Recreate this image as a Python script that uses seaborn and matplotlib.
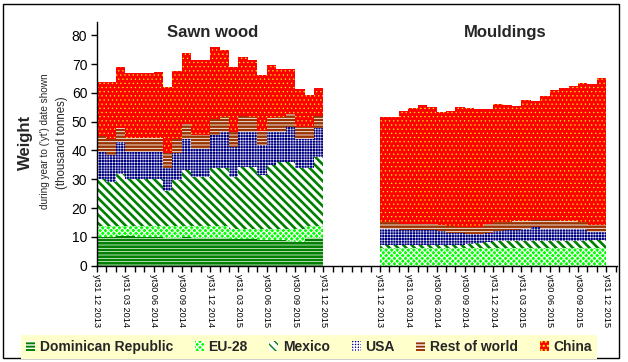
import numpy as np
import pandas as pd
import matplotlib
matplotlib.use("Agg")
import matplotlib.pyplot as plt
import matplotlib.patches as mpatches
import seaborn as sns

# ---------------- data ----------------
period_labels = ["yt31 12 2013", "yt31 03 2014", "yt30 06 2014", "yt30 09 2014",
                 "yt31 12 2014", "yt31 03 2015", "yt30 06 2015", "yt30 09 2015",
                 "yt31 12 2015"]
groups = ["Sawn wood", "Mouldings"]
countries = ["Dominican Republic", "EU-28", "Mexico", "USA", "Rest of world", "China"]

sawn_dominican = [10.1, 10.0, 10.4, 10.2, 10.0, 9.8, 9.8, 9.7, 9.7, 9.8, 9.7, 9.6,
                  9.6, 9.5, 9.4, 9.3, 9.2, 9.0, 8.9, 8.9, 8.7, 8.4, 9.5, 9.5]
sawn_eu = [3.7, 3.8, 3.4, 3.6, 3.8, 4.0, 4.0, 4.1, 4.1, 4.0, 4.1, 4.2,
           4.2, 4.3, 3.2, 3.3, 3.4, 3.6, 3.7, 3.7, 3.9, 4.2, 4.4, 4.4]
sawn_mexico = [16.2, 15.2, 18.0, 16.3, 16.3, 16.3, 16.3, 12.2, 16.0, 19.4, 16.9, 16.9,
               20.0, 20.0, 18.1, 21.6, 21.6, 18.9, 22.4, 23.5, 23.5, 21.2, 19.9, 23.7]
sawn_usa = [9.6, 9.4, 11.3, 9.5, 9.5, 9.5, 9.5, 7.8, 9.4, 10.7, 9.7, 9.7,
            11.6, 12.5, 10.6, 12.1, 12.1, 10.4, 11.5, 10.4, 11.9, 10.1, 10.1, 10.1]
sawn_rest = [5.4, 5.5, 4.6, 4.6, 4.6, 4.6, 4.6, 5.2, 4.7, 5.3, 5.0, 5.0,
             5.4, 5.4, 5.2, 5.8, 5.2, 5.0, 4.7, 5.0, 4.7, 4.1, 4.1, 4.3]
sawn_china = [18.8, 19.9, 21.3, 22.7, 22.7, 22.8, 23.1, 23.0, 23.7, 24.7, 26.0, 26.0,
              25.1, 23.2, 22.5, 20.4, 19.9, 19.3, 18.5, 16.8, 15.6, 13.4, 11.3, 9.7]

mould_dominican = [0.0, 0.0, 0.0, 0.0, 0.0, 0.0, 0.0, 0.0, 0.0, 0.0, 0.0, 0.0,
                   0.0, 0.0, 0.0, 0.0, 0.0, 0.0, 0.0, 0.0, 0.0, 0.0, 0.0, 0.0]
mould_eu = [6.0, 6.0, 6.0, 6.0, 6.0, 6.0, 6.0, 6.0, 6.0, 6.0, 6.0, 6.0,
            6.0, 6.0, 6.0, 6.0, 6.0, 6.0, 6.0, 6.0, 6.0, 6.0, 6.0, 6.0]
mould_mexico = [1.2, 1.2, 1.2, 1.2, 1.2, 1.2, 1.2, 1.3, 1.3, 1.5, 1.8, 2.2,
                2.5, 2.6, 2.6, 2.7, 2.7, 2.7, 2.7, 2.7, 2.7, 2.7, 2.8, 2.8]
mould_usa = [5.4, 5.4, 5.3, 5.3, 5.2, 5.1, 5.0, 4.2, 3.9, 3.5, 3.2, 3.2,
             3.5, 3.7, 3.9, 4.1, 4.8, 4.2, 4.1, 4.1, 4.1, 4.0, 2.8, 2.8]
mould_rest = [2.4, 2.4, 2.1, 2.1, 2.1, 2.2, 2.1, 2.3, 2.3, 2.3, 2.6, 3.2,
              3.2, 3.0, 3.0, 2.8, 2.2, 2.9, 2.9, 2.8, 2.8, 2.6, 2.7, 2.6]
mould_china = [36.6, 36.6, 39.1, 40.2, 41.3, 40.6, 39.1, 39.9, 41.6, 41.5, 40.8, 39.8,
               40.9, 40.5, 40.0, 41.9, 41.5, 43.1, 45.3, 46.1, 46.8, 48.1, 48.8, 51.0]

# ---------------- build table ----------------
n = len(sawn_china)
group_offset = {"Sawn wood": 0, "Mouldings": 30}
series = {
    "Sawn wood": [sawn_dominican, sawn_eu, sawn_mexico, sawn_usa, sawn_rest, sawn_china],
    "Mouldings": [mould_dominican, mould_eu, mould_mexico, mould_usa, mould_rest, mould_china],
}
rows = []
for g in groups:
    arr = np.array(series[g])
    cum = np.cumsum(arr, axis=0)
    for ci, c in enumerate(countries):
        for i in range(n):
            rows.append({"group": g, "country": c, "pos": group_offset[g] + i + 0.5,
                         "value": arr[ci, i], "top": cum[ci, i]})
df = pd.DataFrame(rows)

styles = {
    "Dominican Republic": dict(fc="#008000", hc="white", hatch="-----", hlw=0.5),
    "EU-28": dict(fc="#00FF00", hc="white", hatch="xxxxxx", hlw=0.8),
    "Mexico": dict(fc="white", hc="#008000", hatch="\\\\\\\\", hlw=1.9),
    "USA": dict(fc="#000080", hc="white", hatch="++++++", hlw=0.35),
    "Rest of world": dict(fc="#993300", hc="white", hatch="-----", hlw=0.6),
    "China": dict(fc="#FF0000", hc="#FFFF00", hatch="....", hlw=0.4),
}

# ---------------- figure ----------------
sns.set_theme(style="white")
plt.rcParams["font.family"] = ["Liberation Sans", "DejaVu Sans"]

fig = plt.figure(figsize=(6.28, 3.62), dpi=100)
fig.patch.set_facecolor("white")
ax = fig.add_axes([97 / 628, 1 - 265.7 / 362, (616.7 - 97) / 628, (265.7 - 22) / 362])

for c in countries[::-1]:
    st = styles[c]
    sub = df[df["country"] == c]
    with plt.rc_context({"hatch.linewidth": st["hlw"]}):
        sns.barplot(data=sub, x="pos", y="top", native_scale=True, width=1.0,
                    color=st["fc"], saturation=1, errorbar=None,
                    hatch=st["hatch"], edgecolor=st["hc"], linewidth=0,
                    antialiased=False, ax=ax)

ax.set_xlim(0, 55.1)
ax.set_ylim(0, 84.6)
ax.set_xlabel("")
ax.set_ylabel("")

xt = np.arange(0, 56)
ax.set_xticks(xt)
lab = [""] * len(xt)
for g in groups:
    for k, p in enumerate(period_labels):
        lab[group_offset[g] + 3 * k] = p
ax.set_xticklabels(lab, rotation=270, fontsize=6.6, ha="center", va="top")
ax.set_yticks(np.arange(0, 81, 10))
ax.set_yticklabels([str(v) for v in range(0, 81, 10)], fontsize=10)
ax.tick_params(axis="both", direction="out", length=4, width=1, color="black",
               labelcolor="black", bottom=True, left=True)
ax.tick_params(axis="x", pad=2)
ax.tick_params(axis="y", pad=3)
for s in ["top", "right"]:
    ax.spines[s].set_visible(False)
for s in ["left", "bottom"]:
    ax.spines[s].set_color("black")
    ax.spines[s].set_linewidth(1)
ax.grid(False)

ax.text(12.3, 81.1, "Sawn wood", fontsize=12, fontweight="bold", ha="center", va="center")
ax.text(43.3, 81.1, "Mouldings", fontsize=12, fontweight="bold", ha="center", va="center")

fig.text(25 / 628, 1 - 142 / 362, "Weight", rotation=90, fontsize=12, fontweight="bold",
         ha="center", va="center")
fig.text(45 / 628, 1 - 141 / 362, "during year to ('yt') date shown", rotation=90,
         fontsize=7.2, ha="center", va="center")
fig.text(62 / 628, 1 - 143 / 362, "(thousand tonnes)", rotation=90, fontsize=8.3,
         ha="center", va="center")

handles = []
for c in countries:
    st = styles[c]
    with plt.rc_context({"hatch.linewidth": st["hlw"]}):
        handles.append(mpatches.Patch(facecolor=st["fc"], edgecolor=st["hc"],
                                      hatch=st["hatch"], linewidth=0, label=c))
leg = fig.legend(handles=handles, loc="center", bbox_to_anchor=(309 / 628, 1 - 347 / 362),
                 ncol=6, frameon=True, prop={"weight": "bold", "size": 10},
                 handlelength=0.65, handleheight=0.65, handletextpad=0.35,
                 columnspacing=1.55, borderpad=0.35, fancybox=False, framealpha=1)
leg.get_frame().set_facecolor("#FFFFCC")
leg.get_frame().set_edgecolor("none")

fig.add_artist(mpatches.Rectangle((3 / 628, 1 - 358 / 362), (619 - 3) / 628, (358 - 4) / 362,
                                  transform=fig.transFigure, fill=False,
                                  edgecolor="black", linewidth=1))

fig.savefig("out.png", dpi=100)
